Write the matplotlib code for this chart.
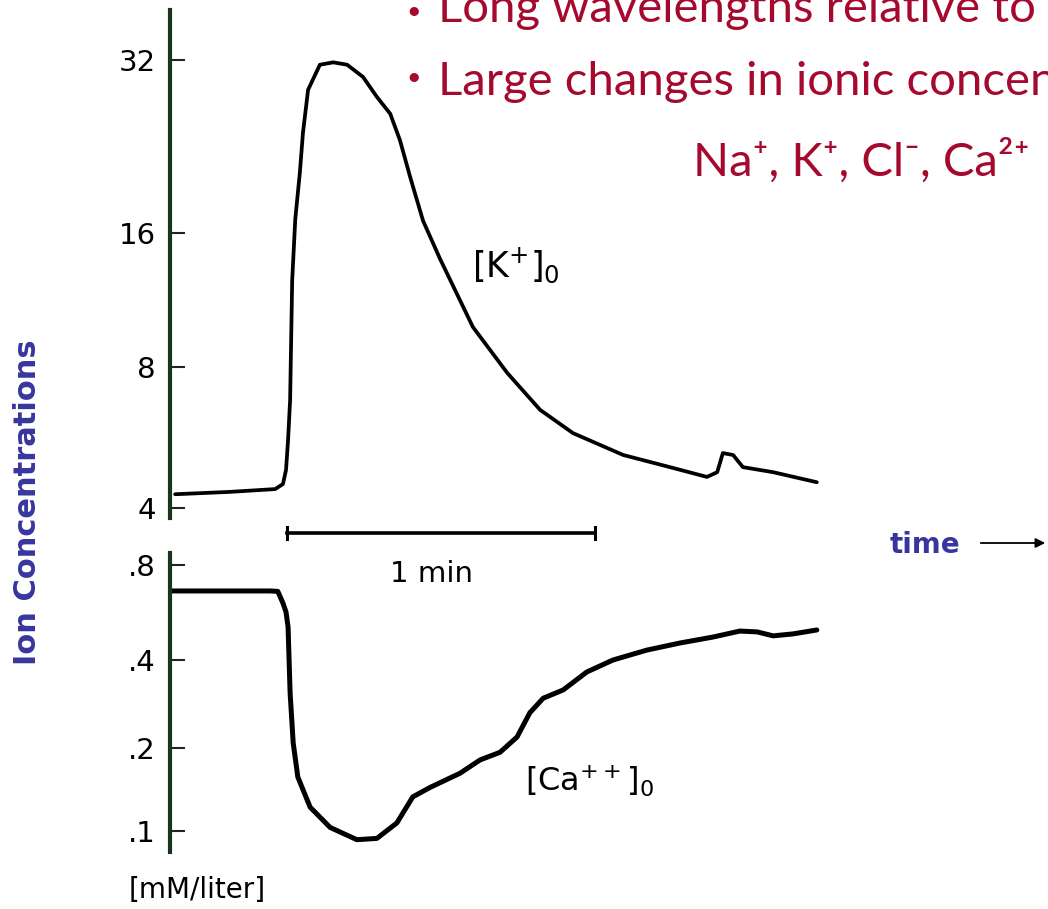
import numpy as np
import matplotlib
matplotlib.use("Agg")
import matplotlib.pyplot as plt

# extracellular K+ (mM) against time (s)
k_time = [1.0, 11.7, 20.5, 22.0, 22.6, 23.0, 23.4, 23.6, 23.8, 24.4, 25.3, 25.9, 26.9,
          29.2, 31.8, 34.5, 37.6, 40.3, 42.9, 44.8, 46.8, 49.3, 52.6, 59.0, 65.7,
          72.1, 78.5, 88.3, 98.0, 104.6, 106.6, 107.7, 109.7, 111.6, 117.5, 126.0]
k_conc = [4.28, 4.33, 4.39, 4.50, 4.82, 5.59, 6.80, 9.19, 12.5, 16.9, 20.4, 23.9, 28.4,
          31.4, 31.7, 31.4, 29.9, 27.6, 25.8, 23.2, 20.0, 16.8, 14.0, 9.84, 7.77,
          6.48, 5.78, 5.19, 4.87, 4.66, 4.77, 5.24, 5.19, 4.89, 4.77, 4.54]

# extracellular Ca++ (mM) against time (s)
ca_time = [0.4, 19.5, 21.0, 22.0, 22.6, 23.0, 23.4, 24.0, 24.9, 27.3, 31.2, 36.4, 40.3,
           44.2, 47.3, 50.7, 56.5, 60.4, 64.3, 67.6, 70.1, 72.7, 76.6, 81.2, 86.3,
           92.9, 99.4, 105.8, 111.0, 114.4, 117.5, 121.4, 126.0]
ca_conc = [0.662, 0.662, 0.660, 0.606, 0.568, 0.509, 0.308, 0.208, 0.157, 0.122, 0.103,
           0.093, 0.094, 0.107, 0.133, 0.144, 0.162, 0.181, 0.193, 0.218, 0.264, 0.296,
           0.316, 0.364, 0.400, 0.430, 0.453, 0.473, 0.494, 0.491, 0.477, 0.484, 0.498]

k_ticks = [4, 8, 16, 32]
k_labels = ["4", "8", "16", "32"]
ca_ticks = [0.1, 0.2, 0.4, 0.8]
ca_labels = [".1", ".2", ".4", ".8"]

W, H = 1048, 909
red = "#a50a2e"
blue = "#36369e"
spine_c = "#1c331c"


def pw(x, xp, fp):
    x = np.asarray(x, float)
    y = np.interp(x, xp, fp)
    y = np.where(x < xp[0], fp[0] + (x - xp[0]) * (fp[1] - fp[0]) / (xp[1] - xp[0]), y)
    y = np.where(x > xp[-1], fp[-1] + (x - xp[-1]) * (fp[-1] - fp[-2]) / (xp[-1] - xp[-2]), y)
    return y


def hand_scale(ticks, pos):
    # the hand drawn log axis is not evenly spaced, so map it piecewise
    lv = np.log2(ticks)
    fwd = lambda v: pw(np.log2(np.clip(np.asarray(v, float), 1e-9, None)), lv, pos)
    inv = lambda p: 2 ** pw(p, pos, lv)
    return fwd, inv


def fig_ax(x0, y0, x1, y1):
    return fig.add_axes([x0 / W, 1 - y1 / H, (x1 - x0) / W, (y1 - y0) / H])


plt.rcParams["font.family"] = ["DejaVu Sans"]
fig = plt.figure(figsize=(W / 100, H / 100), dpi=100)

px_per_s = 308 / 60.0
x_max = 660 / px_per_s

ax1 = fig_ax(170, 10, 830, 518)
ax2 = fig_ax(170, 553, 830, 852)

k_fwd, k_inv = hand_scale(k_ticks, [10, 151, 285, 458])
ca_fwd, ca_inv = hand_scale(ca_ticks, [21, 104, 192, 287])

ax1.set_yscale("function", functions=(k_fwd, k_inv))
ax2.set_yscale("function", functions=(ca_fwd, ca_inv))
ax1.set_ylim(float(k_inv(0)), float(k_inv(508)))
ax2.set_ylim(float(ca_inv(0)), float(ca_inv(299)))

ax1.plot(k_time, k_conc, color="black", lw=2.7, solid_capstyle="round", solid_joinstyle="round")
ax2.plot(ca_time, ca_conc, color="black", lw=3.6, solid_capstyle="round", solid_joinstyle="round")

for ax, t, lab in [(ax1, k_ticks, k_labels), (ax2, ca_ticks, ca_labels)]:
    ax.set_xlim(0, x_max)
    for s in ["top", "right", "bottom"]:
        ax.spines[s].set_visible(False)
    ax.spines["left"].set_color(spine_c)
    ax.spines["left"].set_linewidth(3)
    ax.set_xticks([])
    ax.set_yticks(t)
    ax.set_yticklabels(lab)
    ax.yaxis.set_minor_locator(matplotlib.ticker.NullLocator())
    ax.tick_params(axis="y", direction="in", length=11, width=1.5, color="#222222",
                   pad=10, labelsize=21)
    ax.patch.set_alpha(0)

# 1 min scale bar
bar_t0 = (287 - 170) / px_per_s
bar_y = (518 - 533) / 508
ax1.plot([bar_t0, bar_t0 + 60], [bar_y, bar_y], color="black", lw=2.6,
         transform=ax1.get_xaxis_transform(), clip_on=False)
for bt in [bar_t0, bar_t0 + 60]:
    ax1.plot([bt, bt], [bar_y - 0.011, bar_y + 0.011], color="black", lw=2.2,
             transform=ax1.get_xaxis_transform(), clip_on=False)
fig.text(432 / W, 1 - 574 / H, "1 min", fontsize=21, ha="center", va="center")

fig.text(516 / W, 1 - 265 / H, r"[K$^{+}$]$_{0}$", fontsize=25, ha="center", va="center")
fig.text(590 / W, 1 - 780 / H, r"[Ca$^{++}$]$_{0}$", fontsize=23, ha="center", va="center")
fig.text(197 / W, 1 - 890 / H, "[mM/liter]", fontsize=20, ha="center", va="center")

fig.text(28 / W, 1 - 502 / H, "Ion Concentrations", fontsize=22, fontweight="bold",
         color=blue, rotation=90, ha="center", va="center")
fig.text(925 / W, 1 - 545 / H, "time", fontsize=20, fontweight="bold", color=blue,
         ha="center", va="center")
ax1.annotate("", xy=(1.0, 1 - 543 / H), xytext=(978 / W, 1 - 543 / H),
             xycoords="figure fraction", textcoords="figure fraction",
             arrowprops=dict(arrowstyle="-|>", color="black", lw=1.3, mutation_scale=14),
             annotation_clip=False)

# slide bullets (run off the slide edge, as in the original)
slide_font = ["Lato", "DejaVu Sans"]
for yb in [12, 78]:
    fig.text(414 / W, 1 - yb / H, u"\u2022", fontsize=18, color=red, family=slide_font,
             ha="center", va="center")
fig.text(438 / W, 1 - 22 / H, "Long wavelengths relative to", fontsize=34,
         color=red, family=slide_font, va="baseline")
fig.text(438 / W, 1 - 95 / H, "Large changes in ionic concentrations", fontsize=34,
         color=red, family=slide_font, va="baseline")
fig.text(693 / W, 1 - 176 / H, u"Na\u207a, K\u207a, Cl\u207b, Ca\u00b2\u207a", fontsize=34,
         color=red, family=slide_font, va="baseline")

fig.savefig("out.png", dpi=100)
